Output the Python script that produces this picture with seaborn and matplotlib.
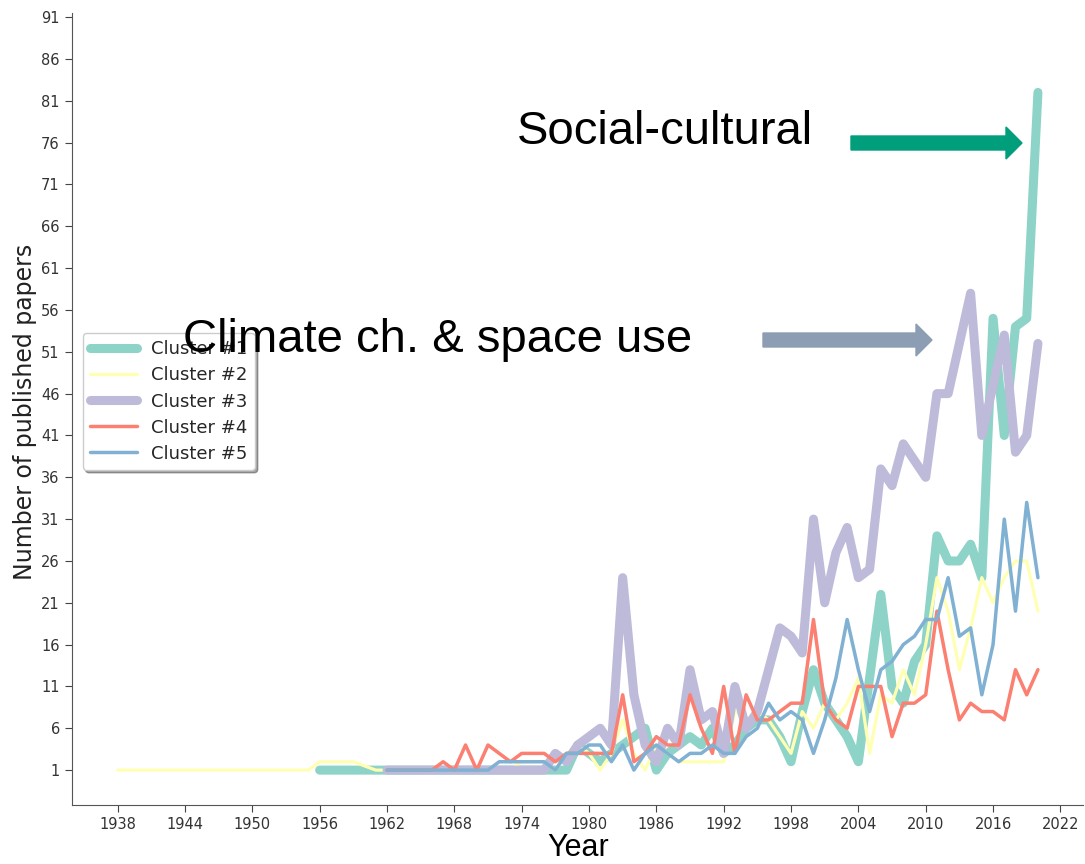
import numpy as np
import pandas as pd
import matplotlib
matplotlib.use("Agg")
import matplotlib.pyplot as plt
import seaborn as sns
from matplotlib.patches import FancyArrow

# -----------------------------
# Data (papers per year)
# -----------------------------
years_c2 = list(range(1938, 2021))
cluster2 = [1, 1, 1, 1, 1, 1, 1, 1, 1, 1, 1, 1, 1, 1, 1, 1, 1, 1,
            2, 2, 2, 2, 1.5, 1,
            1, 1, 1, 1, 1, 1, 1, 1, 1, 1, 1, 1,
            2, 2, 2, 1,
            3, 4, 3, 1, 3, 7, 3, 1, 4, 3, 2, 2, 2, 2, 2,
            8, 7, 8, 7, 5, 3, 8, 6, 9, 7, 9, 12, 3,
            10, 9, 13, 10, 16, 24, 20, 13, 18, 24, 21, 24, 26, 26, 20]

years_c1 = list(range(1956, 2021))
cluster1 = [1, 1, 1, 1, 1, 1, 1, 1, 1, 1, 1, 1, 1, 1, 1, 1, 1, 1, 1, 1, 1, 1, 1,
            4, 3, 2, 3, 4, 5, 6, 1, 3, 4, 5, 4, 6, 3,
            4, 6, 7, 7, 5, 2, 8, 13, 9, 7, 5, 2, 12,
            22, 11, 9, 14, 16, 29, 26, 26, 28, 24, 55, 41, 54, 55, 82]

years_c345 = list(range(1962, 2021))
cluster3 = [1, 1, 1, 1, 1, 1, 1, 1, 1, 1, 1, 1, 1, 1, 1,
            3, 2, 4, 5, 6, 4, 24, 10, 4, 2, 6, 4, 13, 7, 8, 3,
            11, 6, 8, 13, 18, 17, 15, 31, 21, 27, 30, 24, 25,
            37, 35, 40, 38, 36, 46, 46, 52, 58, 41, 47, 53, 39, 41, 52]
cluster4 = [1, 1, 1, 1, 1, 2, 1, 4, 1, 4, 3, 2, 3, 3, 3,
            2, 3, 3, 3, 3, 3, 10, 2, 3, 5, 4, 4, 10, 6, 3, 11,
            3, 10, 7, 7, 8, 9, 9, 19, 9, 7, 6, 11, 11,
            11, 5, 9, 9, 10, 20, 13, 7, 9, 8, 8, 7, 13, 10, 13]
cluster5 = [1, 1, 1, 1, 1, 1, 1, 1, 1, 1, 2, 2, 2, 2, 2,
            1, 3, 3, 4, 4, 2, 4, 1, 3, 4, 3, 2, 3, 3, 4, 3,
            3, 5, 6, 9, 7, 8, 7, 3, 7, 12, 19, 13, 8,
            13, 14, 16, 17, 19, 19, 24, 17, 18, 10, 16, 31, 20, 33, 24]

labels = ["Cluster #1", "Cluster #2", "Cluster #3", "Cluster #4", "Cluster #5"]
series = [(years_c1, cluster1), (years_c2, cluster2), (years_c345, cluster3),
          (years_c345, cluster4), (years_c345, cluster5)]
widths = [6.5, 2.3, 6.5, 2.5, 2.5]

xticks = list(range(1938, 2023, 6))
yticks = list(range(1, 92, 5))

# -----------------------------
# Plot
# -----------------------------
sns.set_style("ticks")
plt.rcParams["font.family"] = ["DejaVu Sans"]
colors = sns.color_palette("Set3", 5)

fig = plt.figure(figsize=(10.85, 8.64), dpi=100)
ax = fig.add_axes([0.066, 0.068, 0.932, 0.917])

for (yrs, vals), lab, col, lw in zip(series, labels, colors, widths):
    df = pd.DataFrame({"year": yrs, "papers": vals})
    sns.lineplot(data=df, x="year", y="papers", color=col, linewidth=lw,
                 label=lab, ax=ax)

ax.set_xlim(1933.9, 2024)
ax.set_ylim(-3.2, 91.5)
ax.set_xticks(xticks)
ax.set_yticks(yticks)
ax.tick_params(labelsize=10.5, length=5, color="#444444", labelcolor="#333333")
ax.set_xlabel("")
ax.set_ylabel("")
sns.despine(ax=ax)
for s in ["left", "bottom"]:
    ax.spines[s].set_color("#555555")

ax.legend(loc="upper left", bbox_to_anchor=(0.011, 0.596), borderaxespad=0,
          fontsize=13, shadow=True, handlelength=2.6, labelspacing=0.45)

# axis titles
fig.text(25 / 1085, 1 - 412 / 864, "Number of published papers", rotation=90,
         ha="center", va="center", fontsize=17, color="#222222")
fig.text(578 / 1085, 1 - 848 / 864, "Year", ha="center", va="center",
         fontsize=22, family="Liberation Sans", color="black")

# annotations
fig.text(517 / 1085, 1 - 132 / 864, "Social-cultural", ha="left", va="center",
         fontsize=34, family="Liberation Sans", color="black")
fig.text(183 / 1085, 1 - 340 / 864, "Climate ch. & space use", ha="left",
         va="center", fontsize=34, family="Liberation Sans", color="black")


def add_arrow(x0, x1, y, color):
    W, H = 1085, 864
    fig.add_artist(FancyArrow(x0 / W, 1 - y / H, (x1 - x0) / W, 0,
                              width=14 / H, head_width=32 / H,
                              head_length=16 / W, length_includes_head=True,
                              color=color, transform=fig.transFigure))


add_arrow(851, 1022, 143, "#009e7b")
add_arrow(763, 932, 340, "#8d9db4")

plt.savefig("out.png", dpi=100)
